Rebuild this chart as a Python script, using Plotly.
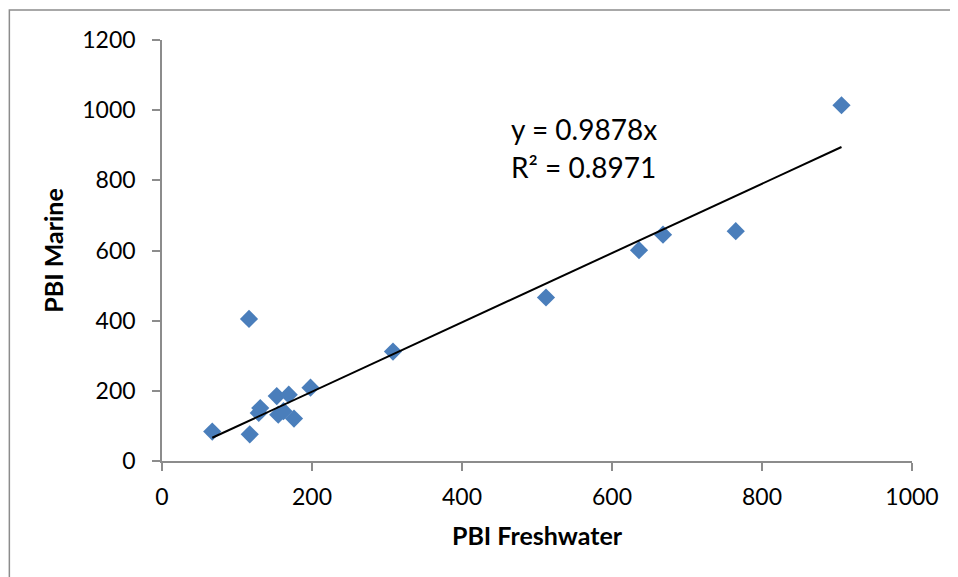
import plotly.graph_objects as go

# Data
pbi_freshwater = [67, 116, 117, 129, 131, 153, 155, 162, 169, 176, 198, 308, 512, 636, 668, 765, 906]
pbi_marine = [84, 405, 76, 137, 151, 185, 132, 142, 189, 121, 209, 312, 466, 601, 645, 655, 1014]
slope = 0.9878
r2 = 0.8971
x_ticks = [0, 200, 400, 600, 800, 1000]
y_ticks = [0, 200, 400, 600, 800, 1000, 1200]

FONT = "Lato"
OFF = 8  # page body margin
W, H = 958 - OFF, 577 - OFF
L, R, T, B = 161.5 - OFF, 958 - 912, 40 - OFF, 577 - 461.5
pw = W - L - R
ph = H - T - B

fig = go.Figure()
fig.add_trace(go.Scatter(
    x=pbi_freshwater, y=pbi_marine, mode="markers",
    marker=dict(symbol="diamond", size=14, color="#4A7EBB", line=dict(width=0)),
    showlegend=False, hoverinfo="x+y",
))
xmin, xmax = min(pbi_freshwater), max(pbi_freshwater)
fig.add_trace(go.Scatter(
    x=[xmin, xmax], y=[slope * xmin, slope * xmax], mode="lines",
    line=dict(color="black", width=2), showlegend=False, hoverinfo="skip",
))

fig.add_annotation(x=463, y=947, xref="x", yref="y", text=f"y = {slope}x",
                   showarrow=False, xanchor="left", yanchor="middle",
                   font=dict(family=FONT, size=28, color="black"))
fig.add_annotation(x=463, y=839, xref="x", yref="y", text=f"R² = {r2}",
                   showarrow=False, xanchor="left", yanchor="middle",
                   font=dict(family=FONT, size=28, color="black"))

# outer chart border
fig.add_shape(type="rect", xref="paper", yref="paper",
              x0=(0.75 - L) / pw, x1=(W + 5 - L) / pw,
              y0=(H - B - (H + 5)) / ph, y1=(H - B - 2) / ph,
              line=dict(color="#8C8C8C", width=1.5), fillcolor="rgba(0,0,0,0)", layer="below")

axis_common = dict(
    showgrid=False, zeroline=False, showline=True, linecolor="#8C8C8C", linewidth=1.5,
    ticks="outside", ticklen=8, tickcolor="#8C8C8C", tickwidth=1.5,
    tickfont=dict(family=FONT, size=23, color="black"),
)
fig.update_xaxes(range=[0, 1000], tickvals=x_ticks, ticklabelstandoff=7,
                 title=dict(text="<b>PBI Freshwater</b>", font=dict(family=FONT, size=25, color="black"), standoff=18),
                 **axis_common)
fig.update_yaxes(range=[0, 1200], tickvals=y_ticks, ticklabelstandoff=12,
                 title=dict(text="<b>PBI Marine</b>", font=dict(family=FONT, size=25, color="black"), standoff=12),
                 **axis_common)

fig.update_layout(
    width=W, height=H, autosize=False,
    margin=dict(l=L, r=R, t=T, b=B, pad=0),
    paper_bgcolor="white", plot_bgcolor="white",
    font=dict(family=FONT),
)
fig.write_html("out.html")
